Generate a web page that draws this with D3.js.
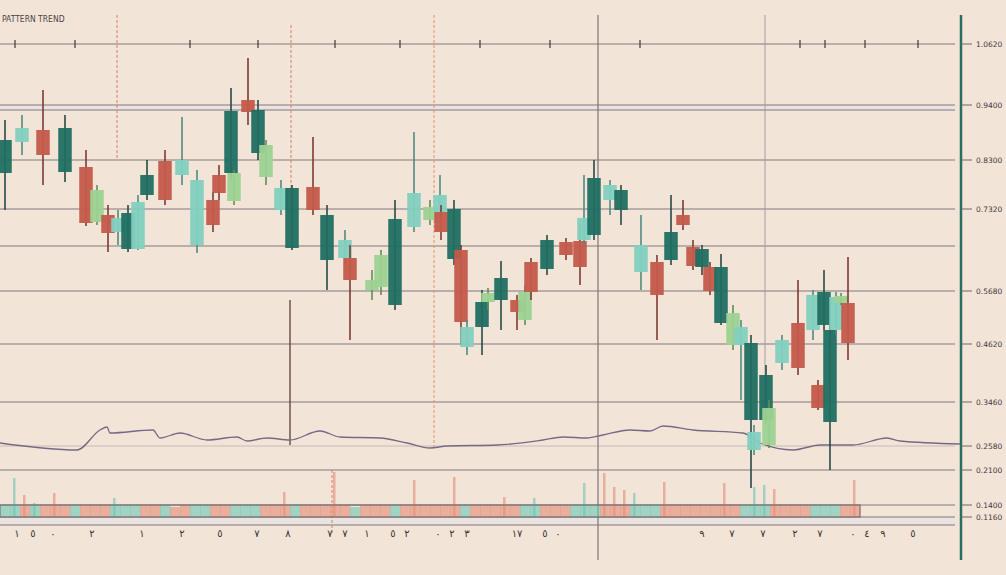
<!DOCTYPE html>
<html><head><meta charset="utf-8">
<script src="https://cdn.jsdelivr.net/npm/d3@7"></script>
<style>html,body{margin:0;padding:0;background:#f3e4d8;}svg{display:block;}</style>
</head><body><svg id="c" width="1006" height="575"></svg>
<script>
// ---- data ----
const title = "PATTERN TREND";
const candleT = [0.5,2.2,4.3,6.5,8.6,9.7,10.8,11.8,12.8,13.8,14.7,16.5,18.2,19.7,21.3,21.9,23.1,23.4,24.8,25.8,26.6,28.1,29.2,31.3,32.7,34.5,35.0,37.2,38.1,39.5,41.4,43.0,44.0,44.1,45.4,46.1,46.7,48.2,48.8,50.1,51.7,52.5,53.1,54.7,56.6,58.0,58.4,59.4,61.0,62.1,64.1,65.7,67.1,68.3,69.3,70.2,71.0,72.1,73.3,74.1,75.1,75.4,76.6,76.9,78.2,79.8,81.3,81.8,82.4,83.0,83.6,84.1,84.8];
const candleOpen  = [80.4,86.6,89,80.6,81.6,70.6,72,68.6,65.2,65.2,76,82.8,80,66,75,80,80.4,74.8,95,84.4,79.6,73,65.4,77.6,63,63.4,63.4,57,57.6,54,69.6,71,72.6,72.6,63.2,65,45.6,49.6,54.6,55,55,51,62.6,61.2,66.6,66.8,67,68,75,73,60.6,62.6,63,72,65.6,61.6,61.6,50.4,46,46,31,25,31,26,42.4,50.4,49,38,50,30.6,49,54.4,54.4];
const candleClose = [87,89.4,84,89.4,70.4,77,68.4,71.4,72.4,74.6,80,75,83,79,70,76.4,92.8,80.4,92.6,93,86,77.4,77.4,73,72,67,59,59,64,71.2,76.4,73.6,76,68.6,73.2,50.6,49.6,54.6,56.4,59.4,52.6,56.6,56.6,67,64,61.6,71.4,79.4,78,77,66,56,68.6,70,61.8,65.2,56.8,61.6,52.4,49.6,46.4,28.6,40,33.4,47,41.4,56,33.4,56.6,49,55.6,55.8,46.4];
const candleHigh  = [91,92,97,92,85,78,74,73,74,76,83,85,91.6,81,76.6,82,97.4,81,103.4,95,87,79,78,87.6,74,69,66,61,65,75,88.6,75,80,74,75,66,51,57,57.4,62.8,56,58,63.4,68,67.4,70,80,83,79,78,72,64,76,75,67,66,62.6,64.2,54,51,48,30,42,35,48,59,57,39,61,50,56.6,56.4,63.6];
const candleLow   = [73,84,78,78.6,69.8,70,64.6,66,64.6,65,75,74,78,64.4,68.6,75,79,74,90,83,78,72,65,72,57,62,47,55,56,53,68.6,70,72,67,62,46,44,44,53,49,49,50,55,60,63,58,66,67,72,70,57,47,62,69,61,60,56,50,45,35,17.4,24,30,25.4,41,40,47,33,49,21,48,54,43];
const candleKind  = ["dt","lt","rd","dt","rd","lg","rd","lt","dt","lt","dt","rd","lt","lt","rd","rd","dt","lg","rd","dt","lg","lt","dt","rd","dt","lt","rd","lg","lg","dt","lt","lg","lt","rd","dt","rd","lt","dt","lg","dt","rd","lg","rd","dt","rd","rd","lt","dt","lt","dt","lt","rd","dt","rd","rd","dt","rd","dt","lg","lt","dt","lt","dt","lg","lt","rd","lt","rd","dt","dt","lt","lg","rd"];

const gridPrices = [106.2,94,93,83,73.2,65.8,56.8,46.2,34.6,21,14,11.6,10];
const faintGridPrices = [25.8];
const axisPrices = [106.2,94,83,73.2,56.8,46.2,34.6,25.8,21,14,11.6];
const axisLabels = ["1.0620","0.9400","0.8300","0.7320","0.5680","0.4620","0.3460","0.2580","0.2100","0.1400","0.1160"];

const maT = [0,7.7,10,10.7,11,15.3,16,18,20.7,23.7,24.7,26.7,29,32,34,38,40.7,43,44.7,49.7,54.3,56.3,58.7,60.3,63,65,66.3,69.3,74.3,76,79.3,82,85.3,88.7,90,96];
const maV = [26.4,25,29,29.6,28.4,29,27.4,28.4,27,27.6,26.8,27.4,27,28.8,27.6,27.4,26.4,25.4,25.8,26,27,27.6,27.4,28,29,28.8,29.8,29,28.4,26.4,25,26,26,27.4,26.8,26.2];

// volume per session slot (in price-axis units above the band base)
const volT = d3.range(0, 86, 1);
const volV = [2.4,7.8,4.4,2.8,2.4,4.8,2.4,2.4,2.4,2.4,2.4,3.8,2.4,2.4,2.4,2.4,2.4,2,2.4,2.4,2.4,2.4,2.4,2.4,2.4,2.4,2.4,2.4,5,2.4,2.4,2.4,2.4,9,2.4,2,2.4,2.4,2.4,2.4,2.4,7.4,2.4,2.4,2.4,8,2.4,2.4,2.4,2.4,4,2.4,2.4,3.8,2.4,2.4,2.4,2.4,6.8,2.4,8.8,6,5.4,4.8,2.4,2.4,7,2.4,2.4,2.4,2.4,2.4,6.8,2.4,2.4,6,6.4,5.6,2.4,2.4,2.4,2.4,2.4,2.4,2.4,7.4];
const volKind = "ttrtrrrtrrrtttrrtrrttrrtttrrrtrrrrrtrrrtrrrrrrtrrrrrttrrrtttrrrtttrrrrrrrrtttrrrrtttrr".split("");
const bandVol = 2.4;

const markerT = [11.7,29.1,43.4,59.8,76.5,33.2,29.0];
const markerTop = [112,110,112,112,112,21,55];
const markerBot = [83,74,25,3,33,8,26];
const markerStyle = ["dashR","dashR","dashO","gray","lgray","dashR","dark"];

const topTickT = [1.5,7.5,19,25.8,33.5,40,48,55,64,80,82.5,86.5,91.8];

const bottomTickT = [1.7,3.3,5.3,9.2,14.2,18.2,22,25.7,28.8,33,34.5,36.7,39.3,40.7,43.8,45.2,46.7,51.7,54.5,55.8,70.2,73.2,76.3,79.5,82,85.3,86.7,88.3,91.3];
const bottomTickLabels = ["١","٥","٠","٢","١","٢","٥","٧","٨","٧","٧","١","٥","٢","٠","٢","٣","١٧","٥","٠","٩","٧","٧","٢","٧","٠","٤","٩","٥"];

// ---- drawing ----
const W = 1006, H = 575;
const svg = d3.select("#c");
const x = d3.scaleLinear().domain([0,100]).range([0,1000]);
const y = d3.scaleLinear().domain([0,115]).range([H,0]);

const col = {dt:"#1f6e62", lt:"#82d0c0", rd:"#c35a4b", lg:"#9dd292"};
const wickCol = {dt:"#284a45", lt:"#4d8c82", rd:"#7d3a32", lg:"#5f8f58"};

svg.append("rect").attr("width",W).attr("height",H).attr("fill","#f3e4d8");

const plotRight = x(95.5);
svg.append("rect").attr("x",0).attr("y",y(94)).attr("width",plotRight).attr("height",y(93)-y(94)).attr("fill","#ebe2e2");
svg.append("rect").attr("x",0).attr("y",y(11.6)).attr("width",plotRight).attr("height",y(10)-y(11.6)).attr("fill","#ebe3df");

svg.selectAll("line.grid").data(gridPrices).join("line")
  .attr("x1",0).attr("x2",plotRight).attr("y1",d=>y(d)).attr("y2",d=>y(d))
  .attr("stroke","#6f676d").attr("stroke-width",1.1).attr("opacity",0.85);
svg.selectAll("line.fgrid").data(faintGridPrices).join("line")
  .attr("x1",0).attr("x2",plotRight).attr("y1",d=>y(d)).attr("y2",d=>y(d))
  .attr("stroke","#9a9098").attr("stroke-width",0.8).attr("opacity",0.6);

svg.selectAll("line.tt").data(topTickT).join("line")
  .attr("x1",d=>x(d)).attr("x2",d=>x(d)).attr("y1",y(106.2)-4).attr("y2",y(106.2)+4)
  .attr("stroke","#3c3c3c").attr("stroke-width",1.2);

const mStyle = {
  dashR:{c:"#d47f6f",w:1,d:"3,2"}, dashO:{c:"#e0906a",w:1,d:"3,2"},
  gray:{c:"#7c7478",w:1.2,d:null}, lgray:{c:"#a59ca0",w:1,d:null}, dark:{c:"#5a3c3c",w:1.3,d:null}
};
markerT.forEach((t,i)=>{
  const s = mStyle[markerStyle[i]];
  svg.append("line").attr("x1",x(t)).attr("x2",x(t)).attr("y1",y(markerTop[i])).attr("y2",y(markerBot[i]))
    .attr("stroke",s.c).attr("stroke-width",s.w).attr("stroke-dasharray",s.d);
});

svg.append("line").attr("x1",x(96.1)).attr("x2",x(96.1)).attr("y1",y(112)).attr("y2",y(3))
  .attr("stroke","#2a6d61").attr("stroke-width",2.5);

// volume band: body part fills the slot, excess drawn as a thin spike
const volBase = y(11.6);
const vcol = (i)=> volKind[i]==="t" ? "#6cc6b3" : "#e48c74";
svg.selectAll("rect.vol").data(volT).join("rect")
  .attr("x",d=>x(d)).attr("width",x(1)-x(0)+0.5)
  .attr("y",(d,i)=>y(11.6+Math.min(volV[i],bandVol))).attr("height",(d,i)=>volBase - y(11.6+Math.min(volV[i],bandVol)))
  .attr("fill",(d,i)=>vcol(i)).attr("opacity",0.6);
svg.selectAll("rect.spk").data(volT.filter((d,i)=>volV[i]>bandVol)).join("rect")
  .attr("x",d=>x(d)+3).attr("width",2.5)
  .attr("y",d=>y(11.6+volV[d])).attr("height",d=>volBase - y(11.6+volV[d]))
  .attr("fill",d=>vcol(d)).attr("opacity",0.6);
svg.append("rect").attr("x",0).attr("y",y(14)).attr("width",x(86)).attr("height",y(11.6)-y(14))
  .attr("fill","none").attr("stroke","#6f676d").attr("stroke-width",1);

svg.append("path").datum(maT.map((t,i)=>[t,maV[i]]))
  .attr("d",d3.line().x(d=>x(d[0])).y(d=>y(d[1])).curve(d3.curveMonotoneX))
  .attr("fill","none").attr("stroke","#756a86").attr("stroke-width",1.3);

const bw = x(1.35)-x(0);
const g = svg.append("g");
candleT.forEach((t,i)=>{
  const k = candleKind[i];
  g.append("line").attr("x1",x(t)).attr("x2",x(t)).attr("y1",y(candleHigh[i])).attr("y2",y(candleLow[i]))
    .attr("stroke",wickCol[k]).attr("stroke-width",1.6);
  const top = Math.max(candleOpen[i],candleClose[i]), bot = Math.min(candleOpen[i],candleClose[i]);
  g.append("rect").attr("x",x(t)-bw/2).attr("y",y(top)).attr("width",bw).attr("height",Math.max(1,y(bot)-y(top)))
    .attr("fill",col[k]).attr("opacity",0.95);
});

svg.selectAll("text.ax").data(axisPrices).join("text")
  .attr("x",x(97.6)).attr("y",d=>y(d)+3).text((d,i)=>axisLabels[i])
  .attr("font-family","DejaVu Sans, sans-serif").attr("font-size",7.5).attr("fill","#3e3a3c");
svg.selectAll("line.axt").data(axisPrices).join("line")
  .attr("x1",x(96.1)).attr("x2",x(97.2)).attr("y1",d=>y(d)).attr("y2",d=>y(d))
  .attr("stroke","#6f676d").attr("stroke-width",1);

svg.selectAll("text.bt").data(bottomTickT).join("text")
  .attr("x",d=>x(d)).attr("y",y(7.6)).attr("text-anchor","middle")
  .text((d,i)=>bottomTickLabels[i])
  .attr("font-family","DejaVu Sans, sans-serif").attr("font-size",10).attr("fill","#3a3535");

svg.append("text").attr("x",2).attr("y",22).text(title)
  .attr("font-family","Liberation Sans Narrow, DejaVu Sans Condensed, sans-serif").attr("font-size",8.5).attr("fill","#4a4546");
</script></body></html>
